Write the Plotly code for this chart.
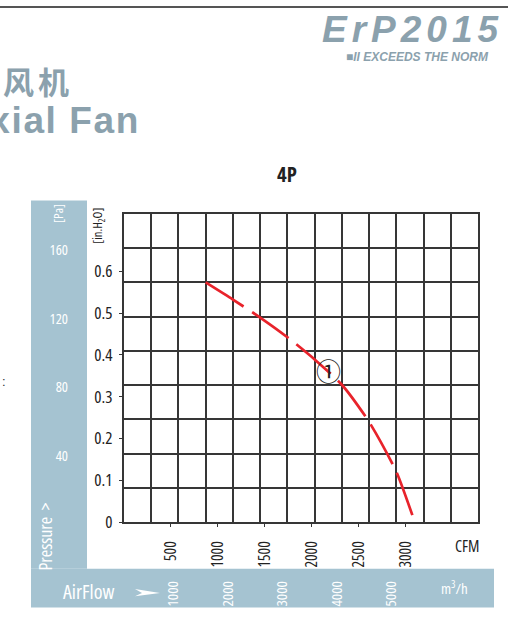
import plotly.graph_objects as go

# ---------------- data ----------------
AIRFLOW_M3H = [1500, 2000, 2500, 3000, 3500, 4000, 4500, 5000, 5300]
PRESSURE_PA = [140, 130, 119.5, 108, 95, 80.2, 58.5, 29.4, 3.5]

M3H_TICKS = [1000, 2000, 3000, 4000, 5000]
CFM_TICKS = [500, 1000, 1500, 2000, 2500, 3000]
PA_TICKS = [40, 80, 120, 160]
INH2O_TICKS = [0, 0.1, 0.2, 0.3, 0.4, 0.5, 0.6]
INH2O_TICKTEXT = ["0", "0.1", "0.2", "0.3", "0.4", "0.5", "0.6"]

M3H_MAX = 6500
PA_MAX = 180
CFM_MAX = 3770
INH2O_MAX = 0.737

CURVE_LABEL = "①"
CURVE_LABEL_POS = (3746, 88.6)

# ---------------- layout helpers ----------------
W, H = 508, 619
L, R, T, B = 124, 478, 214, 531


def X(px):
    return (px - L) / (R - L)


def Y(py):
    return (B - py) / (B - T)


def cond(s):
    return f"<span style='font-stretch:condensed'>{s}</span>"


def spaced(s, px):
    return f"<span style='letter-spacing:{px}px'>{s}</span>"


BAND = "#a5c3d1"
GRID = "#363636"
HEAD = "#8ba1ad"
NARROW = "Open Sans"
SANS = "Liberation Sans, Arial, sans-serif"

fig = go.Figure()
fig.add_trace(go.Scatter(
    x=AIRFLOW_M3H, y=PRESSURE_PA, mode="lines",
    line=dict(color="#e8232b", width=2.7, dash="45px,10px", shape="spline", smoothing=0.6),
    showlegend=False, hoverinfo="skip",
))
fig.add_trace(go.Scatter(x=[None], y=[None], xaxis="x2", yaxis="y2", showlegend=False, hoverinfo="skip"))
fig.add_trace(go.Scatter(x=[None], y=[None], xaxis="x3", yaxis="y3", showlegend=False, hoverinfo="skip"))

grid_axis = dict(showgrid=True, gridcolor=GRID, gridwidth=1.5, showline=True, mirror=True,
                 linecolor=GRID, linewidth=1.5, zeroline=False, showticklabels=False, ticks="",
                 fixedrange=True)

fig.update_layout(
    width=W, height=H,
    margin=dict(l=L, r=W - R, t=T, b=H - B, pad=0),
    paper_bgcolor="white", plot_bgcolor="white",
    xaxis=dict(range=[0, M3H_MAX], tickmode="linear", tick0=0, dtick=500, **grid_axis),
    yaxis=dict(range=[0, PA_MAX], tickmode="linear", tick0=0, dtick=20, **grid_axis),
    xaxis2=dict(overlaying="x", anchor="y", side="bottom", range=[0, CFM_MAX],
                tickmode="array", tickvals=CFM_TICKS, ticktext=[cond(v) for v in CFM_TICKS],
                tickangle=-90, ticks="outside", ticklen=4, tickcolor=GRID, tickwidth=1.2,
                tickfont=dict(family=NARROW, size=15.5, color="#222"),
                showgrid=False, zeroline=False, showline=False, ticklabelstandoff=8, fixedrange=True),
    xaxis3=dict(overlaying="x", anchor="y", side="bottom", range=[0, M3H_MAX],
                tickmode="array", tickvals=M3H_TICKS, ticktext=[cond(v) for v in M3H_TICKS],
                tickangle=-90, ticks="",
                tickfont=dict(family=NARROW, size=15, color="white"),
                showgrid=False, zeroline=False, showline=False, ticklabelstandoff=55,
                ticklabelshift=-5, fixedrange=True),
    yaxis2=dict(overlaying="y", anchor="x", side="left", range=[0, INH2O_MAX],
                tickmode="array", tickvals=INH2O_TICKS, ticktext=[cond(v) for v in INH2O_TICKTEXT],
                ticks="outside", ticklen=4, tickcolor=GRID, tickwidth=1.2,
                tickfont=dict(family=NARROW, size=17, color="#222"),
                showgrid=False, zeroline=False, showline=False, ticklabelstandoff=3, fixedrange=True),
    yaxis3=dict(overlaying="y", anchor="x", side="left", range=[0, PA_MAX],
                tickmode="array", tickvals=PA_TICKS, ticktext=[cond(v) for v in PA_TICKS],
                ticks="", tickfont=dict(family=NARROW, size=14.5, color="white"),
                showgrid=False, zeroline=False, showline=False, ticklabelstandoff=55,
                ticklabelshift=2, fixedrange=True),
)


def P(x, y):
    return f"{X(x)},{Y(y)}"


shapes = [
    dict(type="rect", xref="paper", yref="paper", x0=X(31), x1=X(87), y0=Y(579), y1=Y(200),
         fillcolor=BAND, line=dict(width=0), layer="below"),
    dict(type="rect", xref="paper", yref="paper", x0=X(31), x1=X(494), y0=Y(619), y1=Y(579),
         fillcolor=BAND, line=dict(width=0), layer="below"),
    dict(type="line", xref="paper", yref="paper", x0=X(0), x1=X(508), y0=Y(1), y1=Y(1),
         line=dict(color="#555", width=2)),
    # flat arrow after "AirFlow"
    dict(type="path", xref="paper", yref="paper",
         path=f"M{P(135, 600)} L{P(160, 604)} L{P(135, 607.5)} L{P(142, 604)} Z",
         fillcolor="white", line=dict(width=0)),
]
fig.update_layout(shapes=shapes)

ann = []


def add(text, x, y, size, color, family=SANS, angle=0, xanchor="center", yanchor="middle"):
    ann.append(dict(text=text, x=X(x), y=Y(y), xref="paper", yref="paper", showarrow=False,
                    font=dict(family=family, size=size, color=color), textangle=angle,
                    xanchor=xanchor, yanchor=yanchor))


# header
add(spaced("<b><i>ErP2015</i></b>", 5), 505, 24, 37, HEAD, xanchor="right")
add("<b><i>■II EXCEEDS THE NORM</i></b>", 491, 52, 12, HEAD, xanchor="right")
add(spaced("<b>风机</b>", 4), 1, 77, 31, HEAD, family="Noto Sans CJK SC", xanchor="left")
add(spaced("<b>Axial Fan</b>", 1.6), 142, 118, 37, HEAD, xanchor="right")
add(":", 0, 386, 13, "#333", xanchor="left")

# title
add("4P", 287, 173, 21, "#222", family="Open Sans Condensed")

# axis titles
add(cond("[Pa]"), 58, 214, 13, "white", family=NARROW, angle=-90)
add(cond("Pressure  &gt;"), 45, 546, 18, "white", family=NARROW, angle=-90)
add(cond("[in.H<sub>2</sub>O]"), 99, 226, 12.5, "#222", family=NARROW, angle=-90)
add(cond("AirFlow"), 88, 603, 20, "white", family=NARROW)
add(cond("CFM"), 467, 556, 16, "#222", family=NARROW)
add(cond("m<sup>3</sup>/h"), 454, 598, 15, "white", family=NARROW)

ann.append(dict(text=CURVE_LABEL, x=CURVE_LABEL_POS[0], y=CURVE_LABEL_POS[1], xref="x", yref="y",
                showarrow=False, font=dict(family="Noto Sans CJK SC", size=25, color="#222")))

fig.update_layout(annotations=ann)

fig.write_html("out.html", config={"displayModeBar": False},
               post_script="document.body.style.margin='0px';")
